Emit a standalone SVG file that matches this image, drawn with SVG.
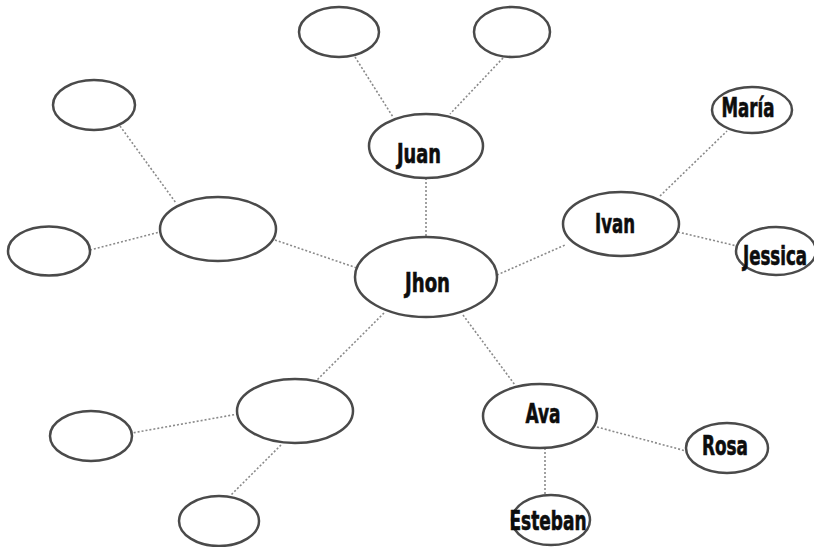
<svg xmlns="http://www.w3.org/2000/svg" width="814" height="547" viewBox="0 0 814 547">
<style>
.node ellipse{fill:#fff;stroke:#4a4a4a;stroke-width:2.5}
.node text{font-family:"Liberation Sans Narrow","DejaVu Sans Condensed","Liberation Sans",sans-serif;font-weight:bold;font-size:26px;fill:#0d0d0d;stroke:#0d0d0d;stroke-width:0.6;text-anchor:middle}
#connectors line{stroke:#8a8a8a;stroke-width:1.6;stroke-dasharray:2 2;fill:none}
</style>
<rect width="814" height="547" fill="#fff"/>
<g id="connectors">
<line x1="426" y1="178" x2="426" y2="236"/>
<line x1="355" y1="57" x2="393" y2="117"/>
<line x1="503" y1="58" x2="450" y2="114"/>
<line x1="497" y1="275" x2="565" y2="245"/>
<line x1="660" y1="196" x2="727" y2="131"/>
<line x1="678" y1="232" x2="737" y2="246"/>
<line x1="463" y1="315" x2="515" y2="385"/>
<line x1="597" y1="427" x2="686" y2="451"/>
<line x1="545" y1="448" x2="545" y2="495"/>
<line x1="275" y1="240" x2="357" y2="268"/>
<line x1="120" y1="126" x2="176" y2="203"/>
<line x1="90" y1="250" x2="160" y2="232"/>
<line x1="384" y1="313" x2="317" y2="380"/>
<line x1="238" y1="414" x2="132" y2="433"/>
<line x1="281" y1="445" x2="231" y2="495"/>
</g>
<g id="node-jhon" class="node"><ellipse cx="426" cy="277" rx="71" ry="40"/><text x="427.5" y="292" textLength="45" lengthAdjust="spacingAndGlyphs">Jhon</text></g>
<g id="node-juan" class="node"><ellipse cx="426" cy="146" rx="57" ry="32"/><text x="419" y="163" textLength="44" lengthAdjust="spacingAndGlyphs">Juan</text></g>
<g id="node-juan-a" class="node"><ellipse cx="339" cy="32" rx="40" ry="25"/></g>
<g id="node-juan-b" class="node"><ellipse cx="512" cy="32" rx="38" ry="25"/></g>
<g id="node-ivan" class="node"><ellipse cx="621" cy="224" rx="58" ry="32"/><text x="615" y="233" textLength="40" lengthAdjust="spacingAndGlyphs">Ivan</text></g>
<g id="node-maria" class="node"><ellipse cx="752" cy="110" rx="40" ry="23"/><text x="748" y="117" textLength="53" lengthAdjust="spacingAndGlyphs">María</text></g>
<g id="node-jessica" class="node"><ellipse cx="776" cy="251" rx="40" ry="24"/><text x="775" y="265" textLength="64" lengthAdjust="spacingAndGlyphs">Jessica</text></g>
<g id="node-ava" class="node"><ellipse cx="540" cy="416" rx="57" ry="32"/><text x="543" y="423" textLength="35" lengthAdjust="spacingAndGlyphs">Ava</text></g>
<g id="node-rosa" class="node"><ellipse cx="727" cy="448" rx="41" ry="25"/><text x="725" y="455" textLength="46" lengthAdjust="spacingAndGlyphs">Rosa</text></g>
<g id="node-esteban" class="node"><ellipse cx="551" cy="520" rx="39" ry="25"/><text x="548" y="530" textLength="77" lengthAdjust="spacingAndGlyphs">Esteban</text></g>
<g id="node-left-mid" class="node"><ellipse cx="218" cy="229" rx="58" ry="32"/></g>
<g id="node-left-top" class="node"><ellipse cx="94" cy="105" rx="41" ry="25"/></g>
<g id="node-left" class="node"><ellipse cx="49" cy="251" rx="41" ry="24.5"/></g>
<g id="node-bl-mid" class="node"><ellipse cx="295" cy="411" rx="58" ry="32"/></g>
<g id="node-bl-left" class="node"><ellipse cx="91" cy="436" rx="41" ry="25"/></g>
<g id="node-bl-bottom" class="node"><ellipse cx="219" cy="521" rx="40" ry="25"/></g>
</svg>
